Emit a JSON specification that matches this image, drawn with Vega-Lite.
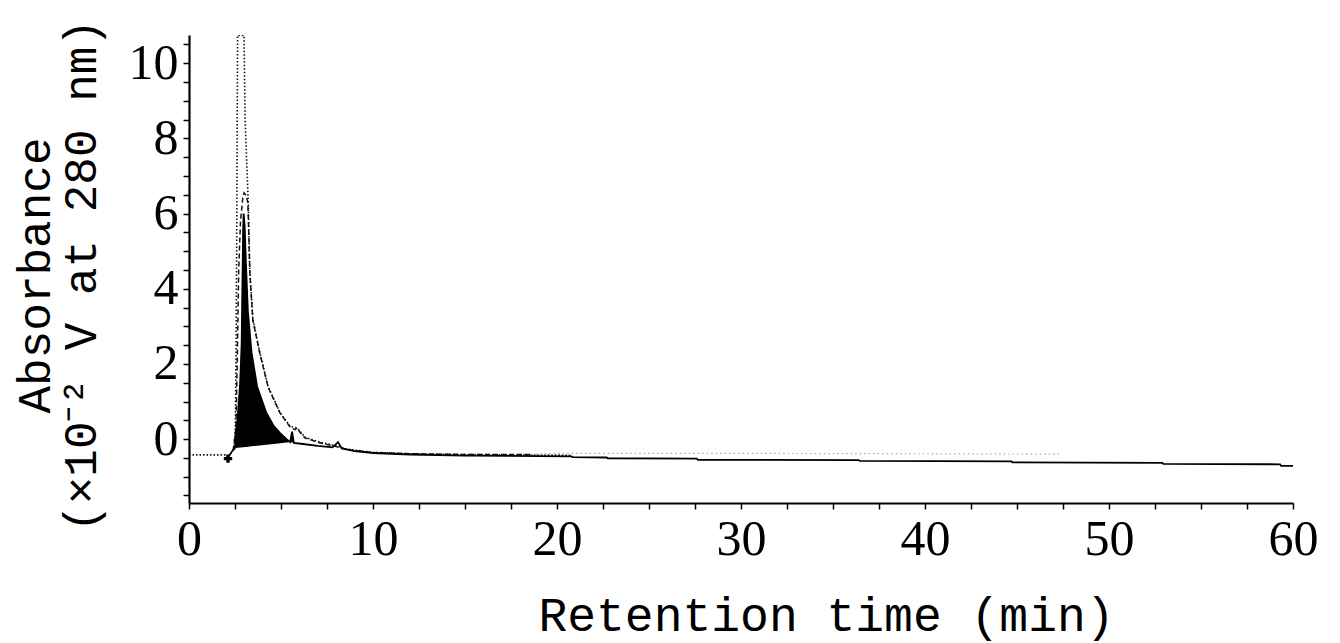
{
  "$schema": "https://vega.github.io/schema/vega-lite/v6.json",
  "width": 1104,
  "height": 468,
  "autosize": "none",
  "padding": {"left": 189, "top": 35, "right": 47, "bottom": 140},
  "background": "white",
  "config": {"view": {"stroke": null}},
  "datasets": {
    "dotted": [
      {"t": 0, "v": -0.42}, {"t": 1, "v": -0.42}, {"t": 2, "v": -0.42}, {"t": 2.12, "v": -0.5},
      {"t": 2.3, "v": -0.36}, {"t": 2.45, "v": -0.22}, {"t": 2.52, "v": 0.3}, {"t": 2.56, "v": 2.5},
      {"t": 2.6, "v": 6.0}, {"t": 2.64, "v": 10.74}, {"t": 2.99, "v": 10.74}, {"t": 3.05, "v": 8.5},
      {"t": 3.15, "v": 7.2}, {"t": 3.22, "v": 6.3}, {"t": 3.3, "v": 4.5}, {"t": 3.47, "v": 3.2},
      {"t": 3.85, "v": 2.3}, {"t": 4.3, "v": 1.4}, {"t": 4.95, "v": 0.7}, {"t": 5.5, "v": 0.34},
      {"t": 5.9, "v": 0.29}, {"t": 6.3, "v": 0.05}, {"t": 7.1, "v": -0.08}, {"t": 8, "v": -0.18},
      {"t": 8.6, "v": -0.27}, {"t": 10, "v": -0.35}, {"t": 12, "v": -0.39}, {"t": 15, "v": -0.41},
      {"t": 18, "v": -0.42}, {"t": 20.8, "v": -0.43}
    ],
    "dashed": [
      {"t": 2.4, "v": -0.3}, {"t": 2.55, "v": 0.3}, {"t": 2.62, "v": 2.0}, {"t": 2.7, "v": 4.5},
      {"t": 2.8, "v": 5.8}, {"t": 2.92, "v": 6.4}, {"t": 2.99, "v": 6.55}, {"t": 3.08, "v": 6.5},
      {"t": 3.2, "v": 6.3}, {"t": 3.31, "v": 4.4}, {"t": 3.47, "v": 3.16}, {"t": 3.85, "v": 2.28},
      {"t": 4.3, "v": 1.38}, {"t": 4.95, "v": 0.69}, {"t": 5.5, "v": 0.32}, {"t": 5.75, "v": 0.25},
      {"t": 5.9, "v": 0.3}, {"t": 6.0, "v": 0.2}, {"t": 6.3, "v": 0.03}, {"t": 7.1, "v": -0.1},
      {"t": 8.0, "v": -0.2}, {"t": 8.6, "v": -0.28}, {"t": 10, "v": -0.36}, {"t": 12, "v": -0.39},
      {"t": 15, "v": -0.41}, {"t": 18.6, "v": -0.41}
    ],
    "dashedtail": [
      {"t": 18.6, "v": -0.41}, {"t": 19.5, "v": -0.38}, {"t": 30, "v": -0.38}, {"t": 40, "v": -0.39},
      {"t": 47.4, "v": -0.4}
    ],
    "solid": [
      {"t": 2.12, "v": -0.5}, {"t": 2.3, "v": -0.35}, {"t": 2.5, "v": -0.24}, {"t": 2.55, "v": 0.2},
      {"t": 2.65, "v": 0.6}, {"t": 2.78, "v": 1.5}, {"t": 2.86, "v": 2.5}, {"t": 2.9, "v": 4.0},
      {"t": 2.94, "v": 5.5}, {"t": 2.97, "v": 6.0}, {"t": 3.02, "v": 5.7}, {"t": 3.1, "v": 4.6},
      {"t": 3.2, "v": 3.4}, {"t": 3.4, "v": 2.3}, {"t": 3.7, "v": 1.4}, {"t": 4.2, "v": 0.7},
      {"t": 4.6, "v": 0.35}, {"t": 4.95, "v": 0.16}, {"t": 5.3, "v": 0.0}, {"t": 5.5, "v": -0.08},
      {"t": 5.6, "v": 0.2}, {"t": 5.7, "v": -0.1}, {"t": 6.2, "v": -0.13}, {"t": 7.0, "v": -0.18},
      {"t": 7.8, "v": -0.22}, {"t": 8.1, "v": -0.08}, {"t": 8.3, "v": -0.25}, {"t": 9, "v": -0.32},
      {"t": 10, "v": -0.37}, {"t": 12, "v": -0.41}, {"t": 15, "v": -0.44}, {"t": 20.8, "v": -0.46},
      {"t": 20.85, "v": -0.48}, {"t": 22.7, "v": -0.49}, {"t": 22.75, "v": -0.51}, {"t": 27.6, "v": -0.52},
      {"t": 27.65, "v": -0.55}, {"t": 36.4, "v": -0.56}, {"t": 36.45, "v": -0.58}, {"t": 44.7, "v": -0.59},
      {"t": 44.75, "v": -0.62}, {"t": 52.9, "v": -0.63}, {"t": 52.95, "v": -0.66}, {"t": 59.3, "v": -0.67},
      {"t": 59.35, "v": -0.71}, {"t": 60, "v": -0.71}
    ],
    "peakfill": [
      {"t": 2.5, "v": -0.24, "base": -0.24}, {"t": 2.55, "v": 0.2, "base": -0.237},
      {"t": 2.65, "v": 0.6, "base": -0.232}, {"t": 2.78, "v": 1.5, "base": -0.225},
      {"t": 2.86, "v": 2.5, "base": -0.221}, {"t": 2.9, "v": 4.0, "base": -0.219},
      {"t": 2.94, "v": 5.5, "base": -0.217}, {"t": 2.97, "v": 6.0, "base": -0.215},
      {"t": 3.02, "v": 5.7, "base": -0.212}, {"t": 3.1, "v": 4.6, "base": -0.208},
      {"t": 3.2, "v": 3.4, "base": -0.203}, {"t": 3.4, "v": 2.3, "base": -0.192},
      {"t": 3.7, "v": 1.4, "base": -0.176}, {"t": 4.2, "v": 0.7, "base": -0.149},
      {"t": 4.6, "v": 0.35, "base": -0.128}, {"t": 4.95, "v": 0.16, "base": -0.109},
      {"t": 5.3, "v": 0.0, "base": -0.091}, {"t": 5.5, "v": -0.08, "base": -0.08},
      {"t": 5.6, "v": 0.2, "base": -0.09}, {"t": 5.7, "v": -0.1, "base": -0.1}
    ],
    "injection": [{"t": 2.12, "v": -0.52}]
  },
  "encoding": {
    "x": {
      "field": "t",
      "type": "quantitative",
      "scale": {"domain": [0, 60], "nice": false, "zero": false},
      "axis": {
        "title": "Retention time (min)",
        "titleFont": "Liberation Mono",
        "titleFontSize": 48,
        "titleFontWeight": "normal",
        "titleColor": "black",
        "titleX": 637,
        "titleY": 127,
        "titleAlign": "center",
        "titleBaseline": "alphabetic",
        "values": [0, 2.5, 5, 7.5, 10, 12.5, 15, 17.5, 20, 22.5, 25, 27.5, 30, 32.5, 35, 37.5, 40, 42.5, 45, 47.5, 50, 52.5, 55, 57.5, 60],
        "labelExpr": "datum.value % 10 === 0 ? datum.value : ''",
        "labelFont": "Liberation Serif",
        "labelFontSize": 50,
        "labelColor": "black",
        "labelPadding": 5,
        "labelFlush": false,
        "labelOverlap": false,
        "labelBound": false,
        "tickSize": 6,
        "tickWidth": 1.5,
        "tickColor": "black",
        "domainColor": "black",
        "domainWidth": 2,
        "grid": false
      }
    },
    "y": {
      "field": "v",
      "type": "quantitative",
      "scale": {"domain": [-1.7, 10.75], "nice": false, "zero": false},
      "axis": {
        "title": ["Absorbance", "(×10⁻² V at 280 nm)"],
        "titleFont": "Liberation Mono",
        "titleFontSize": 46,
        "titleFontWeight": "normal",
        "titleColor": "black",
        "titleLineHeight": 46,
        "titleX": -176,
        "titleY": 240,
        "titleAlign": "center",
        "titleBaseline": "top",
        "values": [-1.5, -1, -0.5, 0, 0.5, 1, 1.5, 2, 2.5, 3, 3.5, 4, 4.5, 5, 5.5, 6, 6.5, 7, 7.5, 8, 8.5, 9, 9.5, 10, 10.5],
        "labelExpr": "datum.value >= 0 && datum.value % 2 === 0 ? datum.value : ''",
        "labelFont": "Liberation Serif",
        "labelFontSize": 50,
        "labelColor": "black",
        "labelPadding": 5,
        "labelFlush": false,
        "labelOverlap": false,
        "labelBound": false,
        "tickSize": 6,
        "tickWidth": 1.5,
        "tickColor": "black",
        "domainColor": "black",
        "domainWidth": 2.2,
        "grid": false
      }
    }
  },
  "layer": [
    {
      "data": {"name": "peakfill"},
      "mark": {"type": "area", "color": "black", "opacity": 1, "clip": true},
      "encoding": {"y2": {"field": "base"}}
    },
    {
      "data": {"name": "dotted"},
      "mark": {"type": "line", "color": "#111", "strokeWidth": 1.6, "strokeDash": [1.5, 2], "clip": true}
    },
    {
      "data": {"name": "dashed"},
      "mark": {"type": "line", "color": "#111", "strokeWidth": 1.5, "strokeDash": [5, 3], "clip": true}
    },
    {
      "data": {"name": "dashedtail"},
      "mark": {"type": "line", "color": "#aaa", "strokeWidth": 1.2, "strokeDash": [1.5, 3], "clip": true}
    },
    {
      "data": {"name": "solid"},
      "mark": {"type": "line", "color": "black", "strokeWidth": 1.8, "clip": true}
    },
    {
      "data": {"name": "injection"},
      "mark": {"type": "point", "shape": "cross", "filled": true, "color": "black", "size": 70, "opacity": 1}
    }
  ]
}
